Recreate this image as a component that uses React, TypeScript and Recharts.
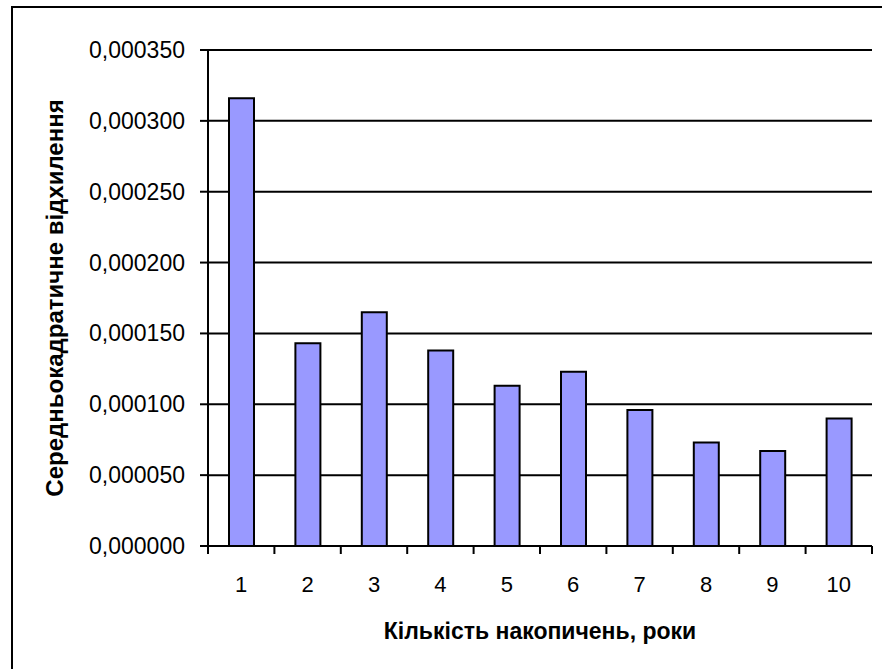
import { BarChart, Bar, XAxis, YAxis, CartesianGrid, Label } from "recharts";

const years = ["1", "2", "3", "4", "5", "6", "7", "8", "9", "10"];
const deviations = [
  0.000316, 0.000143, 0.000165, 0.000138, 0.000113, 0.000123, 0.000096, 0.000073, 0.000067, 0.00009,
];
const yTicks = [0, 0.00005, 0.0001, 0.00015, 0.0002, 0.00025, 0.0003, 0.00035];

const xTitle = "Кількість накопичень, роки";
const yTitle = "Середньокадратичне відхилення";

const data = years.map((year, i) => ({ year, value: deviations[i] }));

const FONT = "'Liberation Sans', Arial, sans-serif";

const fmt = (v: number) => v.toFixed(6).replace(".", ",");

// excel-style ticks: marks sit on category boundaries, labels in the middle
function YearTick(props: any) {
  const { x, y, payload, index, visibleTicksCount } = props;
  const half = payload.offset || 0;
  const axisY = y - 8;
  const isLast = index === visibleTicksCount - 1;
  return (
    <g>
      <line x1={x - half} x2={x - half} y1={axisY} y2={axisY + 8} stroke="#000" strokeWidth={2} />
      {isLast && <line x1={x + half} x2={x + half} y1={axisY} y2={axisY + 8} stroke="#000" strokeWidth={2} />}
      <text x={x} y={y + 38} textAnchor="middle" fontSize={22} fontFamily={FONT} fill="#000">
        {payload.value}
      </text>
    </g>
  );
}

function ValueTick(props: any) {
  const { x, y, payload } = props;
  return (
    <text x={x - 15} y={y + 8} textAnchor="end" fontSize={23} fontFamily={FONT} fill="#000">
      {fmt(payload.value)}
    </text>
  );
}

export default function App() {
  return (
    <div style={{ position: "relative", width: 882, height: 669, overflow: "hidden", background: "#fff" }}>
      <style>{`body{margin:0;overflow:hidden}`}</style>
      <div
        style={{
          position: "absolute",
          left: 11,
          top: 6,
          width: 900,
          height: 700,
          borderLeft: "2px solid #000",
          borderTop: "2px solid #000",
        }}
      />
      <div style={{ position: "absolute", left: 0, top: 0 }}>
        <BarChart
          width={882}
          height={669}
          data={data}
          margin={{ top: 50, right: 10, left: 12, bottom: 63 }}
          barSize={25}
        >
          <CartesianGrid vertical={false} stroke="#000" strokeWidth={2} />
          <XAxis
            dataKey="year"
            tick={<YearTick />}
            tickLine={{ stroke: "none" }}
            tickSize={8}
            tickMargin={0}
            axisLine={{ stroke: "#000", strokeWidth: 2 }}
            height={60}
            interval={0}
          >
            <Label
              content={(p: any) => {
                const vb = p.viewBox;
                return (
                  <text
                    x={vb.x + vb.width / 2}
                    y={vb.y + 93}
                    textAnchor="middle"
                    fontSize={23}
                    fontWeight="bold"
                    fontFamily={FONT}
                    fill="#000"
                  >
                    {xTitle}
                  </text>
                );
              }}
            />
          </XAxis>
          <YAxis
            domain={[0, 0.00035]}
            ticks={yTicks}
            width={196}
            tickSize={8}
            tickMargin={0}
            tick={<ValueTick />}
            tickLine={{ stroke: "#000", strokeWidth: 2 }}
            axisLine={{ stroke: "#000", strokeWidth: 2 }}
          >
            <Label
              content={(p: any) => {
                const vb = p.viewBox;
                const cx = 63;
                const cy = vb.y + vb.height / 2;
                return (
                  <text
                    x={cx}
                    y={cy}
                    transform={`rotate(-90, ${cx}, ${cy})`}
                    textAnchor="middle"
                    fontSize={24}
                    fontWeight="bold"
                    fontFamily={FONT}
                    fill="#000"
                  >
                    {yTitle}
                  </text>
                );
              }}
            />
          </YAxis>
          <YAxis
            yAxisId="frame"
            orientation="right"
            width={0}
            tick={false}
            tickLine={false}
            axisLine={{ stroke: "#808080", strokeWidth: 2 }}
          />
          <Bar dataKey="value" fill="#9999FF" stroke="#000" strokeWidth={2} isAnimationActive={false} />
        </BarChart>
      </div>
    </div>
  );
}
